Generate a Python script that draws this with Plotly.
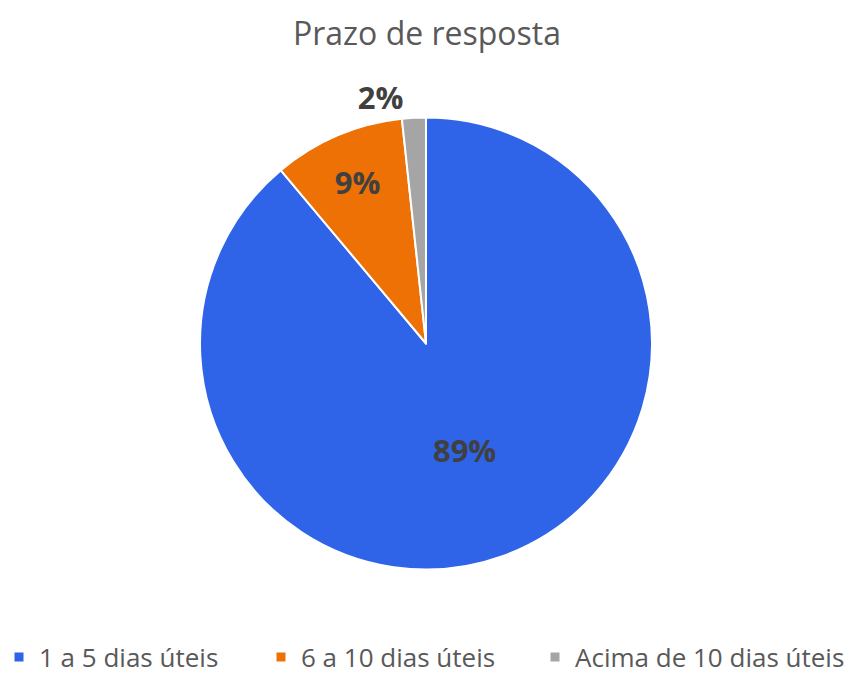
import plotly.graph_objects as go

labels = ["1 a 5 dias úteis", "6 a 10 dias úteis", "Acima de 10 dias úteis"]
values = [88.9, 9.4, 1.7]
colors = ["#2F64E8", "#ED7105", "#A5A5A5"]
text_positions = ["inside", "inside", "outside"]

W, H = 856, 675

fig = go.Figure()
fig.add_trace(go.Pie(
    labels=labels,
    values=values,
    sort=False,
    direction="clockwise",
    rotation=0,
    domain=dict(x=[192 / W, 644 / W], y=[1 - 580 / H, 1 - 91 / H]),
    marker=dict(colors=colors, line=dict(color="white", width=2)),
    textinfo="percent",
    texttemplate="<b>%{percent:.0%}</b>",
    textposition=text_positions,
    insidetextorientation="horizontal",
    textfont=dict(family="Open Sans", size=31, color="#404040"),
    hoverinfo="label+percent",
    showlegend=False,
))

# legend entries, one legend per category so the spacing matches the reference
legend_ids = ["legend", "legend2", "legend3"]
legend_left_px = [-9, 253, 527]
for lab, col, lid in zip(labels, colors, legend_ids):
    fig.add_trace(go.Scatter(
        x=[None], y=[None], mode="markers", name=lab,
        marker=dict(symbol="square", size=9, color=col),
        legend=lid, showlegend=True, hoverinfo="skip",
    ))

legend_style = dict(orientation="h", xanchor="left", y=1 - 649 / H, yanchor="middle",
                    font=dict(family="Open Sans", size=26, color="#595959"),
                    bgcolor="rgba(0,0,0,0)")

fig.update_layout(
    width=W, height=H,
    paper_bgcolor="white", plot_bgcolor="white",
    margin=dict(l=0, r=0, t=0, b=0, autoexpand=False),
    title=dict(text="Prazo de resposta", x=419 / W, xanchor="center", y=1 - 26 / H, yanchor="middle",
               font=dict(family="Open Sans", size=32, color="#595959")),
    xaxis=dict(visible=False),
    yaxis=dict(visible=False),
    legend=dict(x=legend_left_px[0] / W, **legend_style),
    legend2=dict(x=legend_left_px[1] / W, **legend_style),
    legend3=dict(x=legend_left_px[2] / W, **legend_style),
    font=dict(family="Open Sans"),
)

fig.write_html("out.html")
